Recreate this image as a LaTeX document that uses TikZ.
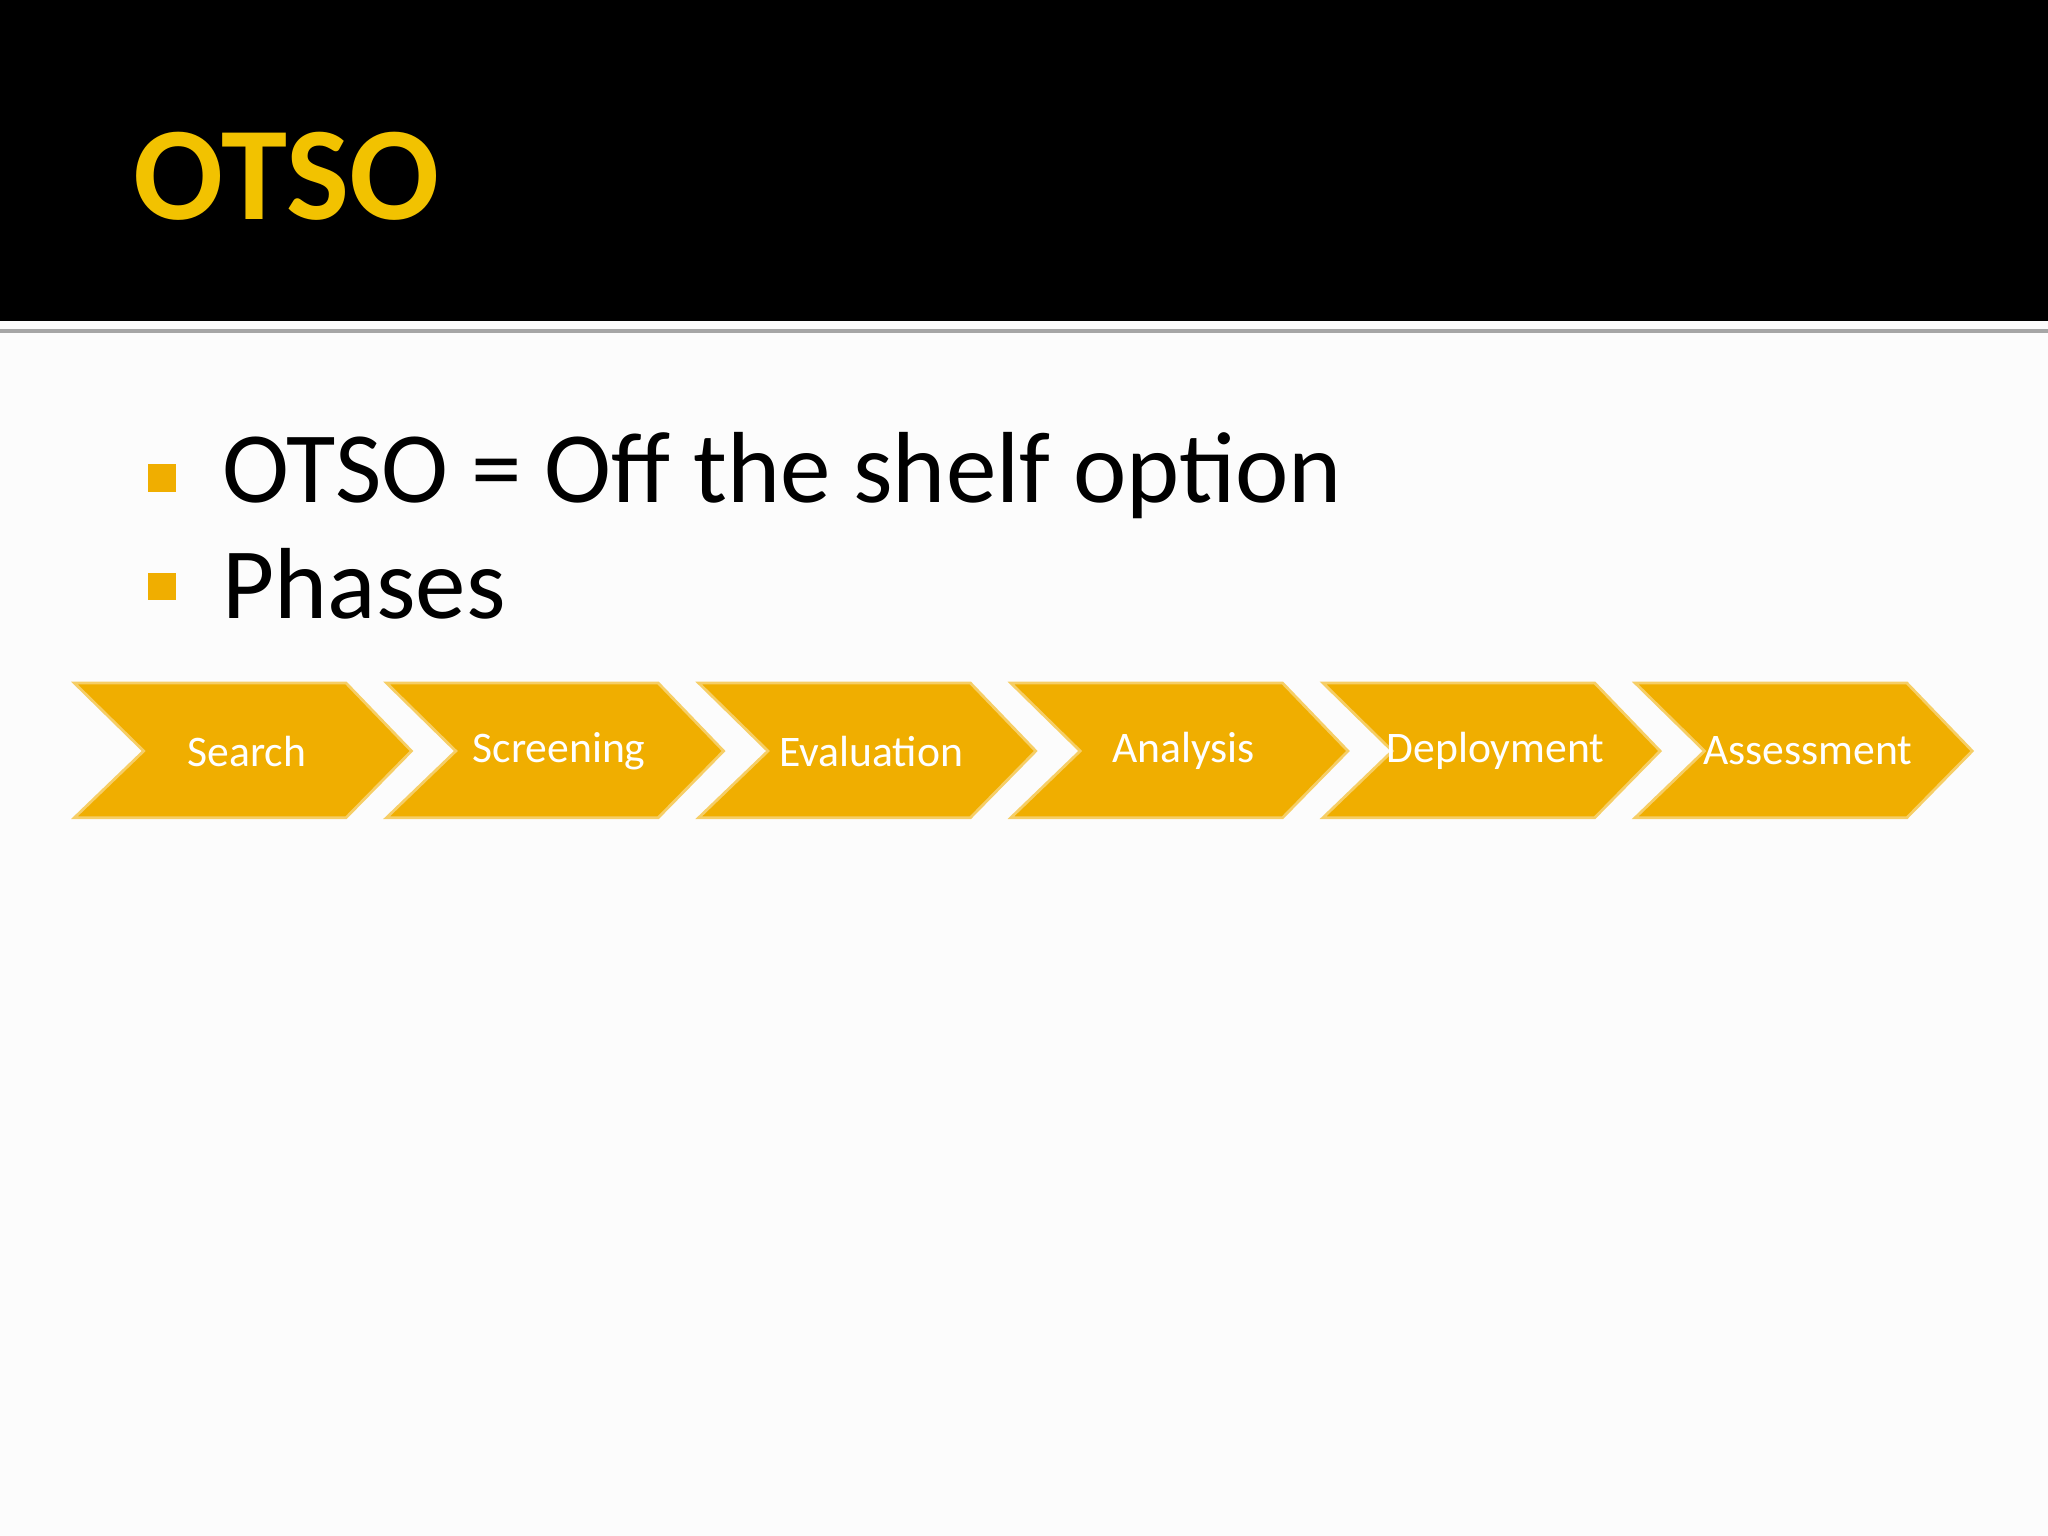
\documentclass[tikz,border=0pt]{standalone}
\usepackage{fontspec}
\setmainfont{Carlito}
\definecolor{gold}{HTML}{F0AE00}
\definecolor{titley}{HTML}{F2C200}
\tikzset{chev/.style={fill=gold,draw=gold!60!white,line width=0.6pt,line join=miter},
 chevtxt/.style={text=white,font=\fontsize{9.5}{11}\selectfont},
 bul/.style={fill=gold,minimum size=0.21cm,inner sep=0pt}}
\begin{document}
\begin{tikzpicture}[x=0.01cm,y=-0.01cm]
\useasboundingbox (0,0) rectangle (1568,1176);
\fill[white!99!black] (0,0) rectangle (1568,1176);
\fill[black] (0,0) rectangle (1568,246);
\fill[gray!70] (0,252) rectangle (1568,255);
\node[anchor=west,text=titley,font=\fontsize{29}{34}\selectfont\bfseries] (title) at (90,135) {OTSO};
\node[bul] (b1) at (124,366) {};
\node[bul] (b2) at (124,449) {};
\node[anchor=west,font=\fontsize{22}{26}\selectfont] (t1) at (158,364) {OTSO = Off the shelf option};
\node[anchor=west,font=\fontsize{22}{26}\selectfont] (t2) at (158,447) {Phases};
\foreach \n [count=\i from 0] in {Search,Screening,Evaluation,Analysis,Deployment,Assessment}{
 \pgfmathsetmacro{\ox}{57+239*\i}
 \begin{scope}[xshift=\ox*0.01cm]
 \draw[chev] (0,523) -- (208,523) -- (258,575) -- (208,626) -- (0,626) -- (53,575) -- cycle;
 \node[chevtxt] (c\i) at (132,575) {\n};
 \end{scope}}
\end{tikzpicture}
\end{document}
